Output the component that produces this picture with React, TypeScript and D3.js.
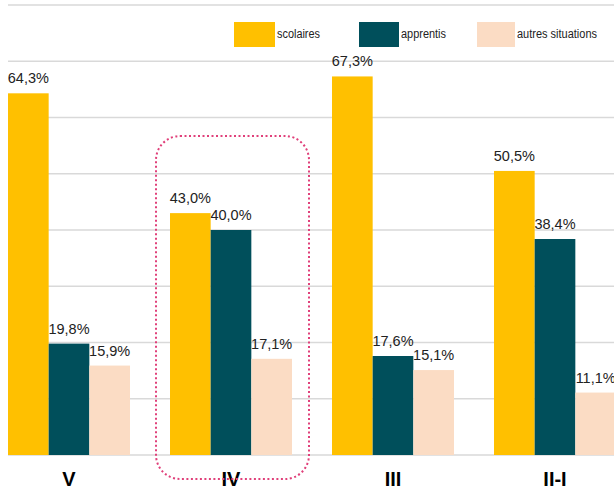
import React from "react";
import { select, scaleBand, scaleLinear, range } from "d3";

const categories = ["V", "IV", "III", "II-I"];
const seriesNames = ["scolaires", "apprentis", "autres situations"];
const scolaires = [64.3, 43.0, 67.3, 50.5];
const apprentis = [19.8, 40.0, 17.6, 38.4];
const autres = [15.9, 17.1, 15.1, 11.1];
const colors = ["#FFC000", "#004F5B", "#FBDCC4"];
const gridTicks = range(0, 90, 10);

const W = 614;
const H = 488;

const fmt = (v: number) => v.toFixed(1).replace(".", ",") + "%";

export default function App() {
  const svgRef = React.useRef<SVGSVGElement>(null);

  React.useEffect(() => {
    const svg = select(svgRef.current);
    svg.selectAll("*").remove();

    const series = [scolaires, apprentis, autres];

    const x = scaleBand<string>()
      .domain(categories)
      .range([-12, 636])
      .paddingInner(0.247)
      .paddingOuter(0.1235);

    const xs = scaleBand<number>()
      .domain([0, 1, 2])
      .range([0, x.bandwidth()]);

    const y = scaleLinear().domain([0, 80]).range([455, 5]);

    // grid
    svg
      .append("g")
      .selectAll("line")
      .data(gridTicks)
      .join("line")
      .attr("x1", 8)
      .attr("x2", W)
      .attr("y1", (d) => y(d))
      .attr("y2", (d) => y(d))
      .attr("stroke", "#d9d9d9")
      .attr("stroke-width", 1.5);

    // bars
    const groups = svg
      .append("g")
      .selectAll("g")
      .data(categories)
      .join("g")
      .attr("transform", (d) => `translate(${x(d)},0)`);

    series.forEach((vals, si) => {
      groups
        .append("rect")
        .attr("x", xs(si)!)
        .attr("width", xs.bandwidth())
        .attr("y", (_, i) => y(vals[i]))
        .attr("height", (_, i) => y(0) - y(vals[i]))
        .attr("fill", colors[si]);

      groups
        .append("text")
        .attr("x", xs(si)! + xs.bandwidth() / 2)
        .attr("y", (_, i) => y(vals[i]) - 10)
        .attr("text-anchor", "middle")
        .attr("font-family", "Liberation Sans, Arial, sans-serif")
        .attr("font-size", 14.5)
        .attr("fill", "#222")
        .text((_, i) => fmt(vals[i]));
    });

    // category labels
    svg
      .append("g")
      .selectAll("text")
      .data(categories)
      .join("text")
      .attr("x", (d) => x(d)! + x.bandwidth() / 2)
      .attr("y", 486)
      .attr("text-anchor", "middle")
      .attr("font-family", "Liberation Sans, Arial, sans-serif")
      .attr("font-weight", "bold")
      .attr("font-size", 20)
      .attr("fill", "#000")
      .text((d) => d);

    // legend
    const legendX = [234, 359, 477];
    const boxW = [41, 40, 38];
    const textW = [43, 45, 80];
    const legend = svg
      .append("g")
      .selectAll("g")
      .data(seriesNames)
      .join("g")
      .attr("transform", (_, i) => `translate(${legendX[i]},22)`);
    legend
      .append("rect")
      .attr("width", (_, i) => boxW[i])
      .attr("height", 25)
      .attr("fill", (_, i) => colors[i]);
    legend
      .append("text")
      .attr("x", (_, i) => boxW[i] + 2)
      .attr("y", 16)
      .attr("font-family", "Liberation Sans, Arial, sans-serif")
      .attr("font-size", 12.5)
      .attr("textLength", (_, i) => textW[i])
      .attr("lengthAdjust", "spacingAndGlyphs")
      .attr("fill", "#222")
      .text((d) => d);

    // highlight around IV
    const ivX = x("IV")!;
    svg
      .append("rect")
      .attr("x", ivX - 14)
      .attr("y", 136)
      .attr("width", x.bandwidth() + 31)
      .attr("height", 343)
      .attr("rx", 24)
      .attr("fill", "none")
      .attr("stroke", "#E0407A")
      .attr("stroke-width", 2)
      .attr("stroke-dasharray", "2 2.5");

    return () => {
      svg.selectAll("*").remove();
    };
  }, []);

  return (
    <div style={{ position: "fixed", left: 0, top: 0 }}>
      <svg ref={svgRef} width={W} height={H} style={{ display: "block", background: "#fff" }} />
    </div>
  );
}
